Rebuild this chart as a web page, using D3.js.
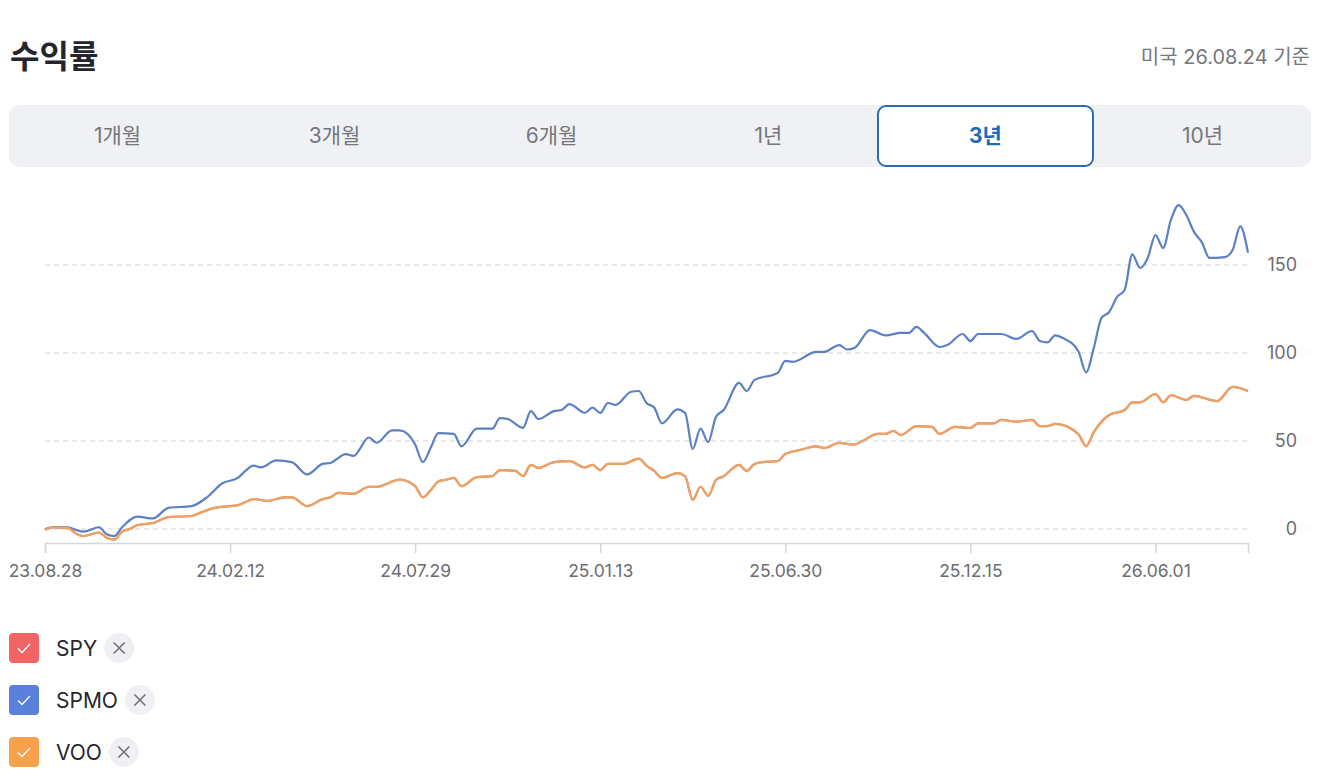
<!DOCTYPE html>
<html>
<head>
<meta charset="utf-8">
<script src="https://cdn.jsdelivr.net/npm/d3@7"></script>
<style>
  body { margin: 0; background: #fff; }
  svg text { font-family: Inter, "Noto Sans CJK KR", sans-serif; }
</style>
</head>
<body>
<script>
// 수익률 chart, 3 year view, weekly points

var width = 1320,
    height = 775;

var tabs = ["1개월", "3개월", "6개월", "1년", "3년", "10년"];
var activeTab = "3년";

// week offset from 23.08.28 and return (%)
var spmoWeeks = [0,1,3,4,5,7,8,9,10,12,14,16,19,21,23,25,26,27,28,30,32,34,36,37,39,40,42,43,45,46,48,49,50,51,53,54,56,58,59,60,62,63,64,66,67,68,70,71,72,73,74,76,77,78,79,80,82,83,84,85,86,87,88,90,91,92,95,96,97,100,101,103,104,105,107,109,111,112,113,114,116,117,119,120,121,124,126,128,129,130,131,132,134,135,136,137,138,139,140,141,142,143,144,145,146,147,148,149,150,151,153,154,155,156];
var spmoValues = [0,1,1,-0.5,-1.5,1,-3,-4,1,7,6,12,13,18,26,29,33,36,35,39,38,31,37,37.5,42.5,41.5,52,49,56,56,48,38,46,54.5,54,47,57,57,63,62.5,57.5,67,62.5,67,67.6,71,66,69,66,71.6,70.5,78,78.4,71.6,69,60,68,66,45.5,57,49.4,63.6,67.6,83,78.4,84.7,88.6,95.5,95,100.6,100.6,104.5,102,103,113,110,111.4,111.4,114.8,111.4,103.4,104.5,110.8,106.8,110.8,110.8,108,112.5,106.8,106,110,108.5,101,89,102.8,120,123.3,131.8,135.8,156,148.3,154,167,159.7,175.6,184,178.4,168.8,163,154,154.5,158.5,172,157];

var vooWeeks = [0,1,3,4,5,7,8,9,10,11,12,14,16,19,20,22,24,25,26,27,29,31,32,34,36,37,38,40,42,43,46,48,49,50,51,52,53,54,56,58,59,61,62,63,64,66,68,70,71,72,73,75,77,78,79,80,82,83,84,85,86,87,88,90,91,92,93,95,96,98,100,101,103,104,105,106,108,109,110,111,113,115,116,118,120,121,123,124,126,128,129,130,131,134,135,136,138,140,141,142,144,145,146,148,149,152,154,155,156];
var vooValues = [-0.5,1,0.5,-2.5,-4,-2,-5,-6,-1.5,0,2.3,3.4,6.8,7.4,9,12,13,13.6,15.3,17,16,18,18,13,17,18,20.5,20,24,24,28,24.4,18,22,27,28,29,24.4,29.5,30,33.5,33,30,36.4,34.7,38,38.6,35,36.4,33.5,37,37,40,36,33,29,31.8,30,16.5,24,18.8,27.8,30,36.4,33,37,38,38.6,42.6,45,47,46,49,48.3,48,50,54,54,55.7,53.4,58.5,58,54,58,57.4,60,60,62,61,62,58.5,58.5,59.7,54,47,55,64.8,67.6,72,72,76.7,72,76,73.3,75.6,72.7,80.7,80,78.4];

// SPY tracks the same index as VOO, drawn underneath it
var spyWeeks = vooWeeks;
var spyValues = vooValues;

var yTicks = [0, 50, 100, 150];
var startDate = new Date(2023, 7, 28);
var endDate = new Date(2026, 7, 24);

var series = [
  {name: "SPY",  weeks: spyWeeks,  values: spyValues,  line: "#ee6a6a", box: "#f26565"},
  {name: "SPMO", weeks: spmoWeeks, values: spmoValues, line: "#5d80c3", box: "#5b7fdc"},
  {name: "VOO",  weeks: vooWeeks,  values: vooValues,  line: "#eba464", box: "#f7a14c"}
];

var svg = d3.select("body")
            .append("svg")
            .attr("width", width)
            .attr("height", height);

// header
svg.append("text")
   .attr("x", 10).attr("y", 68)
   .attr("font-size", 32).attr("font-weight", 700)
   .attr("fill", "#25262b")
   .text("수익률");

svg.append("text")
   .attr("x", 1310).attr("y", 64)
   .attr("text-anchor", "end")
   .attr("font-size", 20)
   .attr("fill", "#76777c")
   .text("미국 26.08.24 기준");

// period tabs
var tabX = d3.scaleBand().domain(tabs).range([9, 1311]);

svg.append("rect")
   .attr("x", 9).attr("y", 105)
   .attr("width", 1302).attr("height", 62)
   .attr("rx", 10)
   .attr("fill", "#f0f1f4");

svg.append("rect")
   .attr("x", tabX(activeTab) + 1).attr("y", 106)
   .attr("width", tabX.bandwidth() - 2).attr("height", 60)
   .attr("rx", 8)
   .attr("fill", "#fff")
   .attr("stroke", "#2c6cb4")
   .attr("stroke-width", 2);

svg.selectAll(".tab")
   .data(tabs)
   .enter().append("text")
   .attr("x", function(d) { return tabX(d) + tabX.bandwidth() / 2; })
   .attr("y", 143)
   .attr("text-anchor", "middle")
   .attr("font-size", 21)
   .attr("font-weight", function(d) { return d == activeTab ? 700 : 400; })
   .attr("fill", function(d) { return d == activeTab ? "#1d6bbd" : "#74767c"; })
   .text(function(d) { return d; });

// scales
var x = d3.scaleTime().domain([startDate, endDate]).range([45, 1248]);
var y = d3.scaleLinear().domain([0, 150]).range([529, 265]);

// grid
svg.selectAll(".grid")
   .data(yTicks)
   .enter().append("line")
   .attr("x1", 45).attr("x2", 1248)
   .attr("y1", function(d) { return y(d); })
   .attr("y2", function(d) { return y(d); })
   .attr("stroke", "#d0d1d5")
   .attr("stroke-dasharray", "5,4");

// y labels on the right
var yAxis = svg.append("g")
   .attr("transform", "translate(1297,0)")
   .call(d3.axisRight(y).tickValues(yTicks).tickSize(0).tickPadding(0));
yAxis.select(".domain").remove();
yAxis.selectAll("text")
   .attr("text-anchor", "end")
   .attr("font-size", 18)
   .attr("fill", "#6c6d72")
   .style("font-family", "Inter, sans-serif");

// x axis, ticks every 24 weeks
var xTicks = d3.range(0, 7).map(function(i) { return d3.timeWeek.offset(startDate, i * 24); });
var xAxis = svg.append("g")
   .attr("transform", "translate(0,543)")
   .call(d3.axisBottom(x).tickValues(xTicks).tickSize(10).tickPadding(12)
         .tickFormat(d3.timeFormat("%y.%m.%d")));
xAxis.select(".domain").attr("stroke", "#d4d7de").attr("stroke-width", 1.5);
xAxis.selectAll(".tick line").attr("stroke", "#d4d7de").attr("stroke-width", 1.5);
xAxis.selectAll("text")
   .attr("font-size", 17.5)
   .attr("fill", "#6c6d72")
   .style("font-family", "Inter, sans-serif");

// lines
var line = d3.line()
   .x(function(d) { return x(d.date); })
   .y(function(d) { return y(d.value); })
   .curve(d3.curveMonotoneX);

series.forEach(function(s) {
  var pts = s.weeks.map(function(w, i) {
    return {date: d3.timeWeek.offset(startDate, w), value: s.values[i]};
  });
  svg.append("path")
     .datum(pts)
     .attr("d", line)
     .attr("fill", "none")
     .attr("stroke", s.line)
     .attr("stroke-width", 2.2)
     .attr("stroke-linejoin", "round");
});

// legend
var legend = svg.selectAll(".legend")
   .data(series)
   .enter().append("g")
   .attr("transform", function(d, i) { return "translate(9," + (633 + i * 52) + ")"; });

legend.append("rect")
   .attr("width", 30).attr("height", 30)
   .attr("rx", 4)
   .attr("fill", function(d) { return d.box; });

legend.append("path")
   .attr("d", "M9,15.5 L13,19.5 L21,11")
   .attr("fill", "none")
   .attr("stroke", "#fff")
   .attr("stroke-width", 1.4);

legend.append("text")
   .attr("x", 47).attr("y", 23)
   .attr("font-size", 21)
   .attr("fill", "#26272b")
   .text(function(d) { return d.name; });

legend.each(function() {
  var g = d3.select(this);
  var tw = g.select("text").node().getComputedTextLength();
  var cx = 47 + tw + 22;
  g.append("circle")
   .attr("cx", cx).attr("cy", 15)
   .attr("r", 15)
   .attr("fill", "#eff0f3");
  g.append("path")
   .attr("d", "M" + (cx - 5.5) + ",9.5 L" + (cx + 5.5) + ",20.5 M" + (cx + 5.5) + ",9.5 L" + (cx - 5.5) + ",20.5")
   .attr("stroke", "#6f7075")
   .attr("stroke-width", 1.6);
});
</script>
</body>
</html>
